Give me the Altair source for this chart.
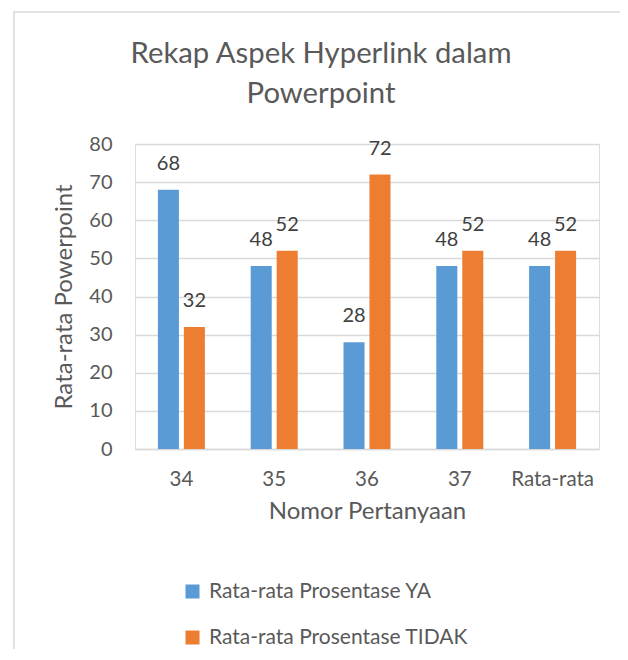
import altair as alt
import pandas as pd

categories = ["34", "35", "36", "37", "Rata-rata"]
ya = [68, 48, 28, 48, 48]
tidak = [32, 52, 72, 52, 52]
series_names = ["Rata-rata Prosentase YA", "Rata-rata Prosentase TIDAK"]
colors = ["#5B9BD5", "#ED7D31"]
title_lines = ["Rekap Aspek Hyperlink dalam", "Powerpoint"]

rows = []
for c, a, b in zip(categories, ya, tidak):
    rows.append({"cat": c, "series": series_names[0], "value": a})
    rows.append({"cat": c, "series": series_names[1], "value": b})
df = pd.DataFrame(rows)

FONT = "Lato"
TXT = "#595959"

x_enc = alt.X("cat:N", sort=categories,
              scale=alt.Scale(paddingInner=0.4935, paddingOuter=0.2467),
              axis=alt.Axis(title="Nomor Pertanyaan", labelAngle=0, ticks=False,
                            domainColor="#d9d9d9", domainWidth=1.5,
                            labelFontSize=20.5, labelColor=TXT, labelFont=FONT,
                            labelPadding=20, titleFontSize=24, titleColor=TXT,
                            titleFont=FONT, titleFontWeight="normal", titlePadding=10))
xoff = alt.XOffset("series:N", sort=series_names,
                   scale=alt.Scale(paddingInner=0.19, paddingOuter=0))
color_enc = alt.Color("series:N", sort=series_names,
                      scale=alt.Scale(domain=series_names, range=colors),
                      legend=alt.Legend(title=None, orient="none", legendX=47, legendY=437,
                                        direction="vertical", symbolType="square",
                                        symbolSize=196, symbolStrokeWidth=0,
                                        labelFontSize=21, labelColor=TXT, labelFont=FONT,
                                        labelLimit=0, labelOffset=6, rowPadding=24, padding=0))

y_enc = alt.Y("value:Q", scale=alt.Scale(domain=[0, 80]),
              axis=alt.Axis(title="Rata-rata Powerpoint", values=list(range(0, 81, 10)),
                            labelOverlap=False,
                            ticks=False, domain=False, gridColor="#d9d9d9", gridWidth=1.5,
                            labelFontSize=20, labelColor=TXT, labelFont=FONT,
                            labelPadding=23, titleFontSize=24, titleColor=TXT,
                            titleFont=FONT, titleFontWeight="normal", titlePadding=12))

bars = alt.Chart(df).mark_bar().encode(x=x_enc, xOffset=xoff, y=y_enc, color=color_enc)

labels = alt.Chart(df).mark_text(fontSize=20, color="#404040", font=FONT,
                                 baseline="middle", dy=-26).encode(
    x=x_enc, xOffset=xoff, y=y_enc, text="value:Q")

border = alt.Chart(df.head(1)).mark_rect(fill=None, stroke="#d9d9d9", strokeWidth=1.5).encode(
    x=alt.value(-121), x2=alt.value(492), y=alt.value(-132), y2=alt.value(530))

tdf = pd.DataFrame({"t": title_lines, "line": [0, 1]})
title1 = alt.Chart(tdf.iloc[[0]]).mark_text(fontSize=29.3, font=FONT, color=TXT,
                                            align="center", baseline="alphabetic").encode(
    x=alt.value(186), y=alt.value(-81), text="t:N")
title2 = alt.Chart(tdf.iloc[[1]]).mark_text(fontSize=29.3, font=FONT, color=TXT,
                                            align="center", baseline="alphabetic").encode(
    x=alt.value(186), y=alt.value(-41), text="t:N")

chart = alt.layer(border, bars, labels, title1, title2).properties(
    width=464, height=305,
    autosize=alt.AutoSizeParams(type="none"),
    padding={"left": 127, "top": 136, "right": 21, "bottom": 200},
).configure_view(strokeWidth=0).configure(background="white")

chart.save("out.html", embed_options={"renderer": "svg", "actions": False})
